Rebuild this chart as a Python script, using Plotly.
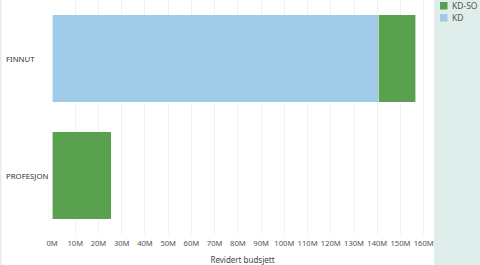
import plotly.graph_objects as go

categories = ["FINNUT", "PROFESJON"]
kd_values = [140.4e6, 0]
kdso_values = [16.2e6, 25.5e6]
tick_vals = [i * 10e6 for i in range(17)]
tick_text = [f"{i*10}M" for i in range(17)]
legend_names = ["KD-SO", "KD"]
legend_colors = ["#59a14f", "#a0cbe8"]

W, H = 480, 265
ml, mr, mt, mb = 52, 47, 0, 31
pw = W - ml - mr
ph = H - mt - mb

def px(xp):
    return (xp - ml) / pw

def py(yp):
    return 1 - (yp - mt) / ph

fig = go.Figure()
fig.add_trace(go.Bar(y=categories, x=kd_values, name="KD", orientation="h",
                     marker=dict(color="#a0cbe8", line=dict(color="white", width=0.6)), width=0.75))
fig.add_trace(go.Bar(y=categories, x=kdso_values, name="KD-SO", orientation="h",
                     marker=dict(color="#59a14f", line=dict(color="white", width=0.6)), width=0.75))

font = "Noto Sans, Open Sans, sans-serif"
for c in categories:
    fig.add_annotation(x=px(4), xref="paper", y=c, yref="y", text=c,
                       showarrow=False, xanchor="left", font=dict(size=7.8, color="#333", family=font))

# legend panel background
fig.add_shape(type="rect", xref="paper", yref="paper",
              x0=px(434), x1=px(W + 2), y0=py(H + 2), y1=py(-2),
              fillcolor="#e0eeeb", line=dict(width=0), layer="below")
# left border strip
fig.add_shape(type="rect", xref="paper", yref="paper",
              x0=px(-2), x1=px(1.5), y0=py(H + 2), y1=py(-2),
              fillcolor="#e0eeeb", line=dict(width=0), layer="below")

# manual legend
for i, (n, col) in enumerate(zip(legend_names, legend_colors)):
    top = 2 + 12 * i
    fig.add_shape(type="rect", xref="paper", yref="paper",
                  x0=px(440), x1=px(447.5), y0=py(top + 7.5), y1=py(top),
                  fillcolor=col, line=dict(width=0))
    fig.add_annotation(x=px(450), xref="paper", y=py(top + 3.75), yref="paper", text=n,
                       showarrow=False, xanchor="left", yanchor="middle",
                       font=dict(size=8.5, color="#555", family=font))

fig.update_layout(
    width=W, height=H,
    margin=dict(l=ml, r=mr, t=mt, b=mb, autoexpand=False),
    barmode="stack",
    plot_bgcolor="white", paper_bgcolor="white",
    font=dict(family=font, size=9, color="#555"),
    showlegend=False,
    xaxis=dict(range=[0, 164e6], tickvals=tick_vals, ticktext=tick_text, tickangle=0,
               showgrid=True, gridcolor="#f0f0f0", gridwidth=1, zeroline=False,
               tickfont=dict(size=7.6, color="#555"), ticklabelstandoff=3,
               title=dict(text="Revidert budsjett", font=dict(size=8, color="#444"), standoff=10),
               ticks="", showline=False, fixedrange=True),
    yaxis=dict(showticklabels=False, showgrid=False, zeroline=False,
               autorange=False, range=[1.5, -0.5]),
)

fig.write_html("out.html")
